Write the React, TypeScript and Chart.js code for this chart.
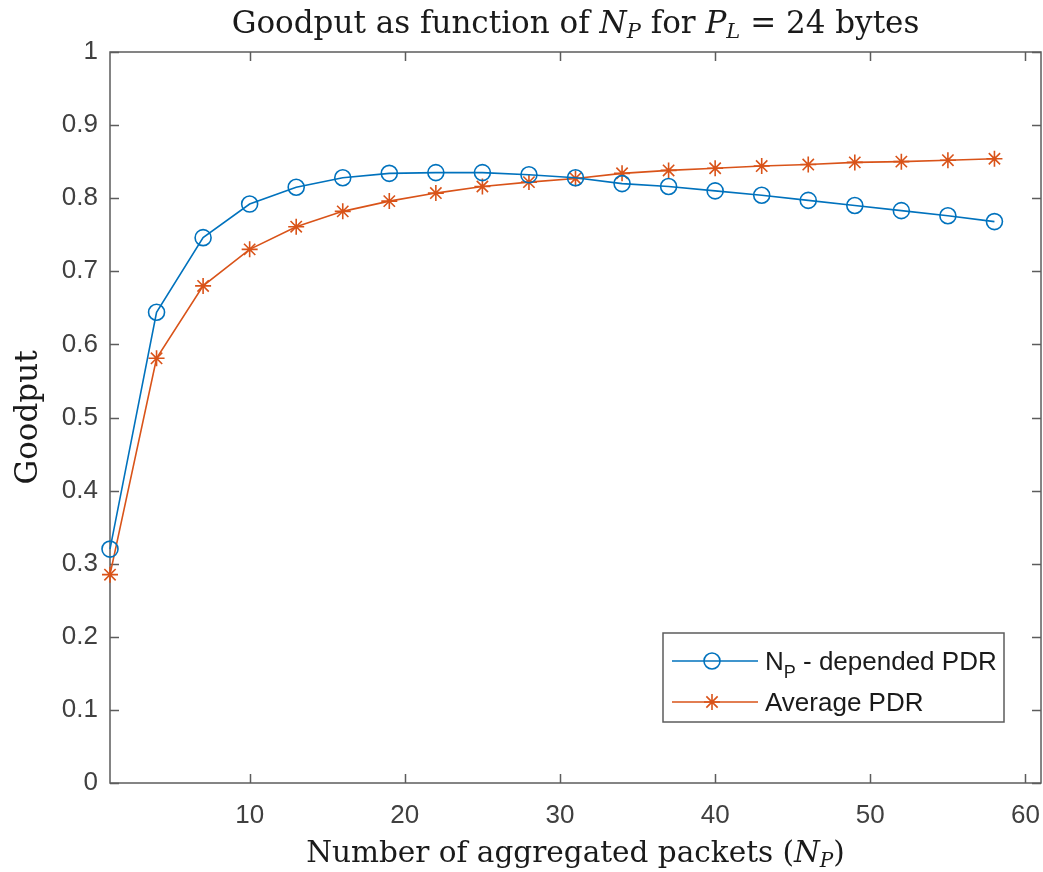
import React, { useEffect, useRef } from "react";
import { Chart, registerables } from "chart.js";

Chart.register(...registerables);

// ---- data ----
const packets = [1, 4, 7, 10, 13, 16, 19, 22, 25, 28, 31, 34, 37, 40, 43, 46, 49, 52, 55, 58];
const npDependedPDR = [0.32, 0.644, 0.746, 0.792, 0.815, 0.828, 0.834, 0.835, 0.835, 0.832, 0.828, 0.82, 0.816, 0.81, 0.804, 0.797, 0.79, 0.783, 0.776, 0.768];
const averagePDR = [0.285, 0.581, 0.68, 0.73, 0.761, 0.782, 0.796, 0.807, 0.816, 0.822, 0.827, 0.834, 0.838, 0.841, 0.844, 0.846, 0.849, 0.85, 0.852, 0.854];
const xTicks = [10, 20, 30, 40, 50, 60];
const yTicks = [0, 0.1, 0.2, 0.3, 0.4, 0.5, 0.6, 0.7, 0.8, 0.9, 1];

const BLUE = "#0072BD";
const ORANGE = "#D95319";
const AXIS = "#5c5c5c";
const LABEL = "#404040";
const SERIF = '"DejaVu Serif", "Liberation Serif", serif';
const SANS = '"Liberation Sans", Arial, sans-serif';
const TS = 31; // serif text size
const SUB = 21; // subscript size
const XS = 29.5; // x label size
const XSUB = 20;

type Part = { t: string; size: number; italic?: boolean; dy?: number; family?: string };

function drawRich(ctx: CanvasRenderingContext2D, parts: Part[], cx: number, baseY: number) {
  let total = 0;
  const widths: number[] = [];
  for (const p of parts) {
    ctx.font = `${p.italic ? "italic " : ""}${p.size}px ${p.family || SERIF}`;
    const w = ctx.measureText(p.t).width;
    widths.push(w);
    total += w;
  }
  let x = cx - total / 2;
  ctx.textBaseline = "alphabetic";
  ctx.textAlign = "left";
  parts.forEach((p, i) => {
    ctx.font = `${p.italic ? "italic " : ""}${p.size}px ${p.family || SERIF}`;
    ctx.fillText(p.t, x, baseY + (p.dy || 0));
    x += widths[i];
  });
}

function drawStar(ctx: CanvasRenderingContext2D, x: number, y: number, r: number) {
  ctx.beginPath();
  ctx.moveTo(x - r, y); ctx.lineTo(x + r, y);
  ctx.moveTo(x, y - r); ctx.lineTo(x, y + r);
  const d = r * Math.SQRT1_2;
  ctx.moveTo(x - d, y - d); ctx.lineTo(x + d, y + d);
  ctx.moveTo(x - d, y + d); ctx.lineTo(x + d, y - d);
  ctx.stroke();
}

const decorPlugin = {
  id: "decor",
  beforeDatasetsDraw(chart: any) {
    const { ctx, chartArea: a, scales } = chart;
    const tl = 9;
    ctx.save();
    ctx.strokeStyle = AXIS;
    ctx.lineWidth = 1.5;
    ctx.beginPath();
    for (const v of xTicks) {
      const px = Math.round(scales.x.getPixelForValue(v)) + 0.5;
      ctx.moveTo(px, a.bottom); ctx.lineTo(px, a.bottom - tl);
      ctx.moveTo(px, a.top); ctx.lineTo(px, a.top + tl);
    }
    for (const v of yTicks) {
      const py = Math.round(scales.y.getPixelForValue(v)) + 0.5;
      ctx.moveTo(a.left, py); ctx.lineTo(a.left + tl, py);
      ctx.moveTo(a.right, py); ctx.lineTo(a.right - tl, py);
    }
    ctx.stroke();
    ctx.strokeRect(a.left, a.top, a.right - a.left, a.bottom - a.top);
    ctx.restore();
  },
  afterDraw(chart: any) {
    const { ctx, chartArea: a } = chart;
    ctx.save();
    ctx.fillStyle = "#1a1a1a";
    const cx = (a.left + a.right) / 2;
    // Title
    drawRich(ctx, [
      { t: "Goodput as function of ", size: TS },
      { t: "N", size: TS, italic: true },
      { t: "P", size: SUB, italic: true, dy: 5 },
      { t: " for ", size: TS },
      { t: "P", size: TS, italic: true },
      { t: "L", size: SUB, italic: true, dy: 5 },
      { t: " = 24 bytes", size: TS },
    ], cx, 33);
    // X label
    drawRich(ctx, [
      { t: "Number of aggregated packets (", size: XS },
      { t: "N", size: XS, italic: true },
      { t: "P", size: XSUB, italic: true, dy: 5 },
      { t: ")", size: XS },
    ], cx, 862);
    // Y label
    ctx.save();
    ctx.translate(37, (a.top + a.bottom) / 2);
    ctx.rotate(-Math.PI / 2);
    drawRich(ctx, [{ t: "Goodput", size: TS }], 0, 0);
    ctx.restore();

    // Legend
    const lx = 663, ly = 633, lw = 341, lh = 89;
    ctx.fillStyle = "#ffffff";
    ctx.fillRect(lx, ly, lw, lh);
    ctx.strokeStyle = AXIS;
    ctx.lineWidth = 1.5;
    ctx.strokeRect(lx, ly, lw, lh);
    const rows = [
      { color: BLUE, y: 661, marker: "circle" },
      { color: ORANGE, y: 702, marker: "star" },
    ];
    for (const r of rows) {
      ctx.strokeStyle = r.color;
      ctx.lineWidth = 1.6;
      ctx.beginPath();
      ctx.moveTo(672, r.y); ctx.lineTo(758, r.y);
      ctx.stroke();
      if (r.marker === "circle") {
        ctx.beginPath();
        ctx.arc(712, r.y, 8, 0, Math.PI * 2);
        ctx.stroke();
      } else {
        drawStar(ctx, 712, r.y, 8);
      }
    }
    ctx.fillStyle = "#1a1a1a";
    ctx.textAlign = "left";
    ctx.textBaseline = "alphabetic";
    ctx.font = `26px ${SANS}`;
    ctx.fillText("N", 765, 670);
    let w = ctx.measureText("N").width;
    ctx.font = `18px ${SANS}`;
    ctx.fillText("P", 765 + w, 678);
    w += ctx.measureText("P").width;
    ctx.font = `26px ${SANS}`;
    ctx.fillText(" - depended PDR", 765 + w, 670);
    ctx.fillText("Average PDR", 765, 711);
    ctx.restore();
  },
};

export default function App() {
  const ref = useRef<HTMLCanvasElement | null>(null);
  useEffect(() => {
    if (!ref.current) return;
    const chart = new Chart(ref.current, {
      type: "line",
      data: {
        datasets: [
          {
            label: "N_P - depended PDR",
            data: packets.map((x, i) => ({ x, y: npDependedPDR[i] })),
            borderColor: BLUE,
            borderWidth: 1.6,
            pointStyle: "circle",
            pointRadius: 8,
            pointBorderWidth: 1.6,
            pointBorderColor: BLUE,
            pointBackgroundColor: "rgba(0,0,0,0)",
            tension: 0,
            clip: false as any,
          },
          {
            label: "Average PDR",
            data: packets.map((x, i) => ({ x, y: averagePDR[i] })),
            borderColor: ORANGE,
            borderWidth: 1.6,
            pointStyle: "star",
            pointRadius: 8,
            pointBorderWidth: 1.6,
            pointBorderColor: ORANGE,
            pointBackgroundColor: ORANGE,
            tension: 0,
            clip: false as any,
          },
        ],
      },
      options: {
        animation: false,
        responsive: false,
        devicePixelRatio: 1,
        events: [],
        layout: { autoPadding: false, padding: { left: 0, top: 52, right: 2, bottom: 0 } },
        plugins: { legend: { display: false }, title: { display: false }, tooltip: { enabled: false } },
        scales: {
          x: {
            type: "linear",
            min: 1,
            max: 61,
            grid: { display: false, drawTicks: false },
            border: { display: false },
            afterBuildTicks: (s: any) => { s.ticks = xTicks.map((v) => ({ value: v })); },
            afterFit: (s: any) => { s.height = 89; s.paddingLeft = 0; s.paddingRight = 0; },
            ticks: { color: LABEL, font: { family: SANS, size: 26 }, padding: 17, maxRotation: 0 },
          },
          y: {
            type: "linear",
            min: 0,
            max: 1,
            grid: { display: false, drawTicks: false },
            border: { display: false },
            afterBuildTicks: (s: any) => { s.ticks = yTicks.map((v) => ({ value: v })); },
            afterFit: (s: any) => { s.width = 110; s.paddingTop = 0; s.paddingBottom = 0; },
            ticks: {
              color: LABEL,
              font: { family: SANS, size: 26 },
              padding: 12,
              callback: (v: any) => String(+Number(v).toFixed(1)),
            },
          },
        },
      },
      plugins: [decorPlugin],
    });
    return () => chart.destroy();
  }, []);
  return (
    <div style={{ position: "absolute", left: 0, top: 0, width: 1043, height: 872, background: "#fff" }}>
      <canvas ref={ref} width={1043} height={872} />
    </div>
  );
}
